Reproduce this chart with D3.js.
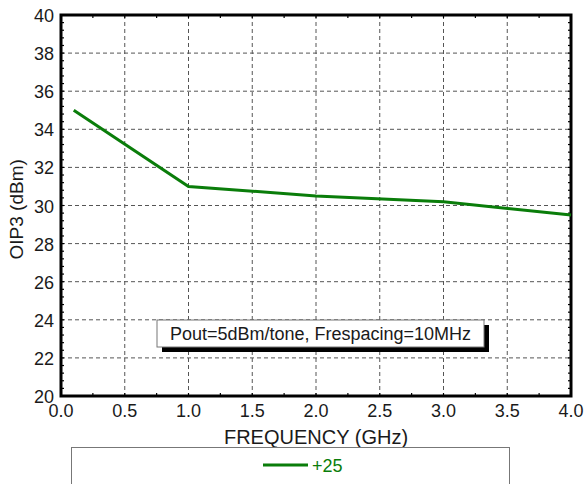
<!DOCTYPE html>
<html>
<head>
<meta charset="UTF-8">
<script src="https://d3js.org/d3.v7.min.js"></script>
<style>
  body { margin: 0; background: #fff; }
  text { font-family: "Liberation Sans", Arial, sans-serif; fill: #1a1a1a; }
</style>
</head>
<body>
<div id="chart"></div>
<script>
// chart data
const freq = [0.1, 1.0, 2.0, 3.0, 4.0];
const oip3 = [35.0, 31.0, 30.5, 30.2, 29.5];
const xTicks = [0, 0.5, 1, 1.5, 2, 2.5, 3, 3.5, 4];
const yTicks = [20, 22, 24, 26, 28, 30, 32, 34, 36, 38, 40];
const seriesName = "+25";
const note = "Pout=5dBm/tone, Frespacing=10MHz";

const W = 587, H = 484;
const pLeft = 61, pRight = 571, pTop = 15, pBottom = 396;
const green = "#0a7d0a";

const svg = d3.select("#chart").append("svg")
    .attr("width", W).attr("height", H);

const x = d3.scaleLinear().domain([0, 4]).range([pLeft, pRight]);
const y = d3.scaleLinear().domain([20, 40]).range([pBottom, pTop]);

// grid
svg.append("g").selectAll("line").data(xTicks.slice(1, -1)).enter().append("line")
    .attr("x1", d => x(d)).attr("x2", d => x(d))
    .attr("y1", pTop).attr("y2", pBottom)
    .attr("stroke", "#555").attr("stroke-width", 1).attr("stroke-dasharray", "4,3");
svg.append("g").selectAll("line").data(yTicks.slice(1, -1)).enter().append("line")
    .attr("y1", d => y(d)).attr("y2", d => y(d))
    .attr("x1", pLeft).attr("x2", pRight)
    .attr("stroke", "#555").attr("stroke-width", 1).attr("stroke-dasharray", "4,3");

// minor ticks
const xMinor = d3.range(0, 4.001, 0.25);
const yMinor = d3.range(20, 40.001, 0.4);
const ticks = svg.append("g").attr("stroke", "#000").attr("stroke-width", 1.2);
xMinor.forEach(v => {
    ticks.append("line").attr("x1", x(v)).attr("x2", x(v)).attr("y1", pBottom).attr("y2", pBottom - 3);
    ticks.append("line").attr("x1", x(v)).attr("x2", x(v)).attr("y1", pTop).attr("y2", pTop + 3);
});
yMinor.forEach(v => {
    ticks.append("line").attr("y1", y(v)).attr("y2", y(v)).attr("x1", pLeft).attr("x2", pLeft + 3);
    ticks.append("line").attr("y1", y(v)).attr("y2", y(v)).attr("x1", pRight).attr("x2", pRight - 3);
});

// frame
svg.append("rect")
    .attr("x", pLeft).attr("y", pTop)
    .attr("width", pRight - pLeft).attr("height", pBottom - pTop)
    .attr("fill", "none").attr("stroke", "#000").attr("stroke-width", 3);

// tick labels
svg.append("g").selectAll("text").data(yTicks).enter().append("text")
    .attr("x", pLeft - 7).attr("y", d => y(d) + 7)
    .attr("text-anchor", "end").attr("font-size", 18)
    .text(d => d);
svg.append("g").selectAll("text").data(xTicks).enter().append("text")
    .attr("x", d => x(d)).attr("y", pBottom + 21)
    .attr("text-anchor", "middle").attr("font-size", 18)
    .text(d => d.toFixed(1));

// axis titles
svg.append("text")
    .attr("x", x(2)).attr("y", 444)
    .attr("text-anchor", "middle").attr("font-size", 20)
    .text("FREQUENCY (GHz)");
svg.append("text")
    .attr("transform", `translate(23, ${y(29.8)}) rotate(-90)`)
    .attr("text-anchor", "middle").attr("font-size", 19)
    .text("OIP3 (dBm)");

// series line
const line = d3.line().x((d, i) => x(freq[i])).y(d => y(d));
svg.append("path")
    .attr("d", line(oip3))
    .attr("fill", "none").attr("stroke", green).attr("stroke-width", 3);

// annotation box with shadow
const bx = 157, by = 320, bw = 327, bh = 27;
svg.append("rect").attr("x", bx + 5).attr("y", by + 5).attr("width", bw).attr("height", bh).attr("fill", "#000");
svg.append("rect").attr("x", bx).attr("y", by).attr("width", bw).attr("height", bh)
    .attr("fill", "#fff").attr("stroke", "#777").attr("stroke-width", 1);
svg.append("text")
    .attr("x", bx + bw / 2).attr("y", by + 20)
    .attr("text-anchor", "middle").attr("font-size", 18)
    .text(note);

// legend
svg.append("rect").attr("x", 71.5).attr("y", 447.5).attr("width", 438).attr("height", 50)
    .attr("fill", "#fff").attr("stroke", "#777").attr("stroke-width", 1);
svg.append("line").attr("x1", 263).attr("x2", 308).attr("y1", 465).attr("y2", 465)
    .attr("stroke", green).attr("stroke-width", 3);
svg.append("text").attr("x", 312).attr("y", 472)
    .attr("font-size", 18).style("fill", green)
    .text(seriesName);
</script>
</body>
</html>
